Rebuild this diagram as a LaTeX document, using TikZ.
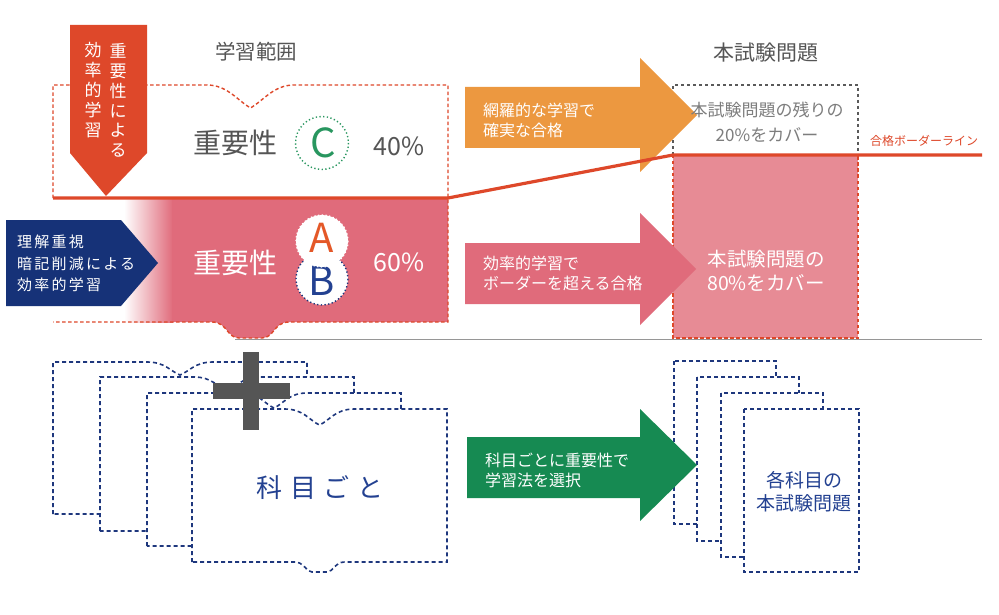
\documentclass[tikz,border=0pt]{standalone}
\usepackage{fontspec}
\setmainfont{Noto Sans CJK JP}
\newcommand{\fsz}[2]{\fontsize{#1}{#2}\selectfont}
\definecolor{bred}{RGB}{222,72,42}
\definecolor{pinkA}{RGB}{224,107,123}
\definecolor{pinkB}{RGB}{231,139,149}
\definecolor{orangeA}{RGB}{236,152,64}
\definecolor{greenA}{RGB}{22,138,82}
\definecolor{greenC}{RGB}{40,150,95}
\definecolor{navyA}{RGB}{22,50,120}
\definecolor{navyT}{RGB}{35,65,145}
\definecolor{navyD}{RGB}{30,55,125}
\definecolor{grayT}{RGB}{85,85,85}
\definecolor{grayL}{RGB}{125,125,125}
\definecolor{grayD}{RGB}{90,90,90}
\definecolor{orangeT}{RGB}{228,88,40}
\definecolor{plusgray}{RGB}{85,85,85}
\tikzset{
  reddash/.style={draw=bred, line width=1.4pt, dash pattern=on 3.5pt off 2.5pt},
  navydash/.style={draw=navyD, line width=1.6pt, dash pattern=on 4pt off 3pt},
  graydash/.style={draw=grayD, line width=1.3pt, dash pattern=on 3pt off 3pt},
  redline/.style={draw=bred, line width=3.2pt},
  dotcirc/.style={line width=1.4pt, dash pattern=on 1.3pt off 2.4pt},
  bigarrow/.style n args={7}{insert path={(#1,#3) -- (#2,#3) -- (#2,#5) -- (#7,{(#5+#6)/2}) -- (#2,#6) -- (#2,#4) -- (#1,#4) -- cycle}},
  bookpath/.style n args={8}{insert path={(#1,#4) -- (#1,#3) -- ({(#1+#2)/2-#5},#3) .. controls ({(#1+#2)/2-0.45*#5},#3) and ({(#1+#2)/2-0.3*#5},{#3+0.7*#6}) .. ({(#1+#2)/2},{#3+#6}) .. controls ({(#1+#2)/2+0.3*#5},{#3+0.7*#6}) and ({(#1+#2)/2+0.45*#5},#3) .. ({(#1+#2)/2+#5},#3) -- (#2,#3) -- (#2,#4) -- ({(#1+#2)/2+#7},#4) .. controls ({(#1+#2)/2+0.6*#7},#4) and ({(#1+#2)/2+0.55*#7},{#4+#8}) .. ({(#1+#2)/2+0.3*#7},{#4+#8}) -- ({(#1+#2)/2-0.3*#7},{#4+#8}) .. controls ({(#1+#2)/2-0.55*#7},{#4+#8}) and ({(#1+#2)/2-0.6*#7},#4) .. ({(#1+#2)/2-#7},#4) -- cycle}},
  lbl/.style={inner sep=0pt, outer sep=0pt}
}
\begin{document}
\begin{tikzpicture}[x=1pt,y=-1pt]
\useasboundingbox (0,0) rectangle (999,615);
\fill[white] (0,0) rectangle (999,615);

% divider line
\coordinate (G0) at (235,339);
\coordinate (G1) at (982,339);
\draw[draw={rgb,255:red,150;green,150;blue,150}, line width=1pt] (G0) -- (G1);

% big pink area
\shade[left color=white, right color=pinkA] (124,198) rectangle (173,322);
\fill[pinkA] (172,198) -- (448,198) -- (448,322) -- (289,322)
  .. controls (274,322) and (274,338) .. (262,338) -- (239,338)
  .. controls (227,338) and (227,322) .. (212,322) -- (172,322) -- cycle;

% big book outline (open on lower left)
\draw[reddash] (53,198) -- (53,85) -- (207,85)
  .. controls (227,85) and (237,100) .. (250.5,108)
  .. controls (264,100) and (274,85) .. (294,85) -- (448,85) -- (448,322) -- (289,322)
  .. controls (274,322) and (274,338) .. (262,338) -- (239,338)
  .. controls (227,338) and (227,322) .. (212,322) -- (53,322);

% right boxes
\fill[pinkB] (673,155) rectangle (858,338);
\draw[reddash] (673,155) rectangle (858,338);
\draw[graydash] (673,155) -- (673,85) -- (858,85) -- (858,155);

% arrows
\fill[orangeA, bigarrow={465}{640}{87}{148}{58}{172}{697}];
\fill[pinkA, bigarrow={465}{640}{243}{304}{213}{325}{696}];

% border line
\coordinate (L0) at (53,198);
\coordinate (L1) at (448,198);
\coordinate (L2) at (673,155);
\coordinate (L3) at (982,155);
\draw[redline] (L0) -- (L1) -- (L2) -- (L3);

% red banner
\fill[bred] (70,25) -- (147,25) -- (147,153) -- (106,196) -- (70,153) -- cycle;
\node[lbl, text=white, align=center, font=\fsz{17}{19.8}] (bn1) at (118,100.5) {重\\要\\性\\に\\よ\\る};
\node[lbl, text=white, align=center, font=\fsz{17}{19.8}] (bn2) at (93,90) {効\\率\\的\\学\\習};

% blue arrow
\fill[navyA] (6,220) -- (121,220) -- (158,263) -- (121,306) -- (6,306) -- cycle;
\node[lbl, anchor=west, align=left, text=white, font=\fsz{15}{21.5}\addfontfeatures{LetterSpace=15}] (blt) at (17,263.5) {理解重視\\暗記削減による\\効率的学習};

% circles
\draw[draw=greenC, dotcirc] (322,143) circle (26.5);
\node[lbl, text=greenC, font=\fsz{40}{44}] (cC) at (323,143) {C};
\filldraw[fill=white, draw=navyD, dotcirc] (322,279) circle (26);
\node[lbl, text=navyT, font=\fsz{40}{44}] (cB) at (322,281) {B};
\filldraw[fill=white, draw=white, dotcirc] (322,241) circle (26);
\node[lbl, text=orangeT, font=\fsz{40}{44}] (cA) at (322,238) {A};

% texts top
\node[lbl, text=grayT, font=\fsz{20.5}{24}] (t1) at (256,52) {学習範囲};
\node[lbl, text=grayT, font=\fsz{21}{24}] (t2) at (766,53) {本試験問題};
\node[lbl, text=grayT, font=\fsz{28}{32}] (t3) at (235,143) {重要性};
\node[lbl, text=grayT, font=\fsz{25}{28}] (t4) at (399,146) {40\%};
\node[lbl, text=white, font=\fsz{28}{32}] (t5) at (235,263) {重要性};
\node[lbl, text=white, font=\fsz{25}{28}] (t6) at (399,262.5) {60\%};
\node[lbl, anchor=west, align=left, text=white, font=\fsz{16}{20}] (t7) at (483,120) {網羅的な学習で\\確実な合格};
\node[lbl, anchor=west, align=left, text=white, font=\fsz{16}{20}] (t8) at (483,273.5) {効率的学習で\\ボーダーを超える合格};
\node[lbl, align=center, text=grayL, font=\fsz{17}{25}] (t9) at (767,122.5) {本試験問題の残りの\\20\%をカバー};
\node[lbl, align=center, text=white, font=\fsz{19.5}{24}] (t10) at (766,271) {本試験問題の\\80\%をカバー};
\node[lbl, anchor=west, text=bred, font=\fsz{12}{14}] (t11) at (870,141) {合格ボーダーライン};

% books bottom-left
\filldraw[fill=white, navydash, bookpath={53}{307}{362}{514}{33}{13}{25}{10}];
\filldraw[fill=white, navydash, bookpath={100}{354}{377}{531}{33}{14}{25}{10}];
\filldraw[fill=white, navydash, bookpath={147}{401}{393}{546}{33}{15}{25}{10}];
\filldraw[fill=white, navydash, bookpath={192}{447}{409}{562}{35}{16}{25}{10}];
\fill[plusgray] (243,352) rectangle (259,430);
\fill[plusgray] (213,383) rectangle (290,399);
\node[lbl, text=navyT, font=\fsz{26}{30}] (t12) at (320,488) {科\hspace{7.8pt}目\hspace{7.8pt}ご\hspace{7.8pt}と};

% papers right
\filldraw[fill=white, navydash] (674,361) rectangle (776,524);
\filldraw[fill=white, navydash] (697,377) rectangle (799,541);
\filldraw[fill=white, navydash] (721,393) rectangle (823,557);
\filldraw[fill=white, navydash] (744,409) rectangle (859,572);
\node[lbl, align=center, text=navyT, font=\fsz{19}{23}] (t13) at (804,491.5) {各科目の\\本試験問題};

% green arrow
\fill[greenA, bigarrow={467}{640}{437}{498}{409}{521}{697}];
\node[lbl, anchor=west, align=left, text=white, font=\fsz{16}{20}] (t14) at (485,470) {科目ごとに重要性で\\学習法を選択};
\end{tikzpicture}
\end{document}
